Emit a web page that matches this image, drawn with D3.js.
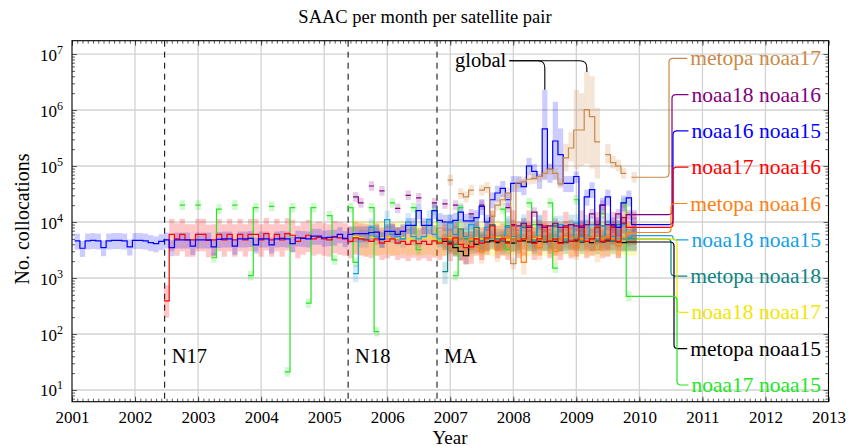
<!DOCTYPE html>
<html>
<head>
<meta charset="utf-8">
<script src="https://cdn.jsdelivr.net/npm/d3@7"></script>
<style>
body { margin: 0; background: #fff; }
</style>
</head>
<body>
<div id="chart"></div>
<script>
"use strict"

/* data: monthly collocation counts, month index 0 = Jan 2001 */
let years = [2001, 2002, 2003, 2004, 2005, 2006, 2007, 2008, 2009, 2010, 2011, 2012, 2013];
let decades = [10, 100, 1000, 10000, 100000, 1000000, 10000000];
let eventYears = [2002.47, 2005.38, 2006.79];
let eventNames = ["N17", "N18", "MA"];

let pairNames = ["metopa noaa17", "noaa18 noaa16", "noaa16 noaa15", "noaa17 noaa16", "metopa noaa16",
    "noaa18 noaa15", "metopa noaa18", "noaa18 noaa17", "metopa noaa15", "noaa17 noaa15"];
let startMonths = [72, 54, 1, 18, 71, 54, 71, 54, 71, 21];
let bandLow = [0.8, 0.82, 0.7, 0.5, 0.6, 0.7, 0.6, 0.5, 0.7, 0.82];
let bandHigh = [1.25, 1.22, 1.35, 1.9, 1.5, 1.45, 1.5, 2.0, 1.35, 1.22];

let metopaNoaa17 = [56000, null, 32000, 28000, 37000, null, 37000, 41000, 12600, 20000, 25000, 33000,
    1800, 50000, 52000, 58000, 60000, 65000, 74000, 87000, 74000, 48000, 140000, 210000,
    440000, 440000, 1020000, 760000, 270000, null, 160000, 115000, 100000, 74000, null, 63000];

let noaa18Noaa16 = [28000, 22000, null, 44000, null, 36000, null, null, 17500, null, 30000, null,
    27000, null, null, 22000, null, 21000, null, 20000, null, null, 14000, null,
    20000, null, null, null, null, 18000, 9000, 8500, 9500, 8000, 15000, 9000,
    8000, 8500, 9500, 8000, 8500, 9000, 8500, 8000, 9000, 14000, 9000, 20000,
    9000, 8500, 14000, 9500, 13500, 13500];

let noaa16Noaa15 = [4600, 3400, 4600, 4700, 4600, 3500, 4600, 4700, 4700, 4600, 3600,
    4700, 4700, 4600, 4300, 4100, 4500, 4800, 3500, 4800, 4800, 4800, 3700,
    4800, 4800, 4800, 3600, 4900, 5000, 5000, 3700, 5000, 5000, 5100, 3900,
    5000, 5000, 3900, 5000, 5100, 5000, 4100, 5200, 5100, 5000, 5600, 5600,
    5200, 5300, 5400, 6000, 5100, 6000, 6200, 6200, 6200, 6500, 6600, 4900,
    6800, 6800, 6000, 6800, 8700, 8700, 16000, 8700, 8700, 16000, 10700, 10000,
    10000, 10700, 15000, 10500, 10500, 12000, 19000, 10000, 25000, 33000, 40000, 25000,
    49000, 49000, 43000, 100000, 80000, 65000, 460000, 87000, 280000, 160000, 49000, 49000,
    65000, 8000, 28000, 38000, 9000, 20000, 28000, 9000, 8000, 22000, 27000, 9000];

let noaa17Noaa16 = [390,
    6000, 5000, 6000, 4800, 4800, 6000, 6000, 4700, 4800, 6000, 4800, 6000,
    4800, 6000, 4800, 6000, 6000, 4800, 6200, 4800, 6000, 4800, 6200, 5800,
    4500, 5200, 5800, 5000, 5300, 5000, 4800, 5500, 5200, 5000, 4500, 5200,
    5000, 4800, 4500, 5000, 4200, 4500, 5000, 4200, 4500, 4000, 4600, 4100,
    4500, 4000, 4600, 4200, 5000, 4000, 5200, 4000, 3500, 3600, 5000, 4200,
    5200, 8500, 4500, 5000, 4200, 8500, 4500, 5000, 8500, 4200, 5000, 8500,
    4500, 5000, 4200, 8000, 4500, 4800, 8500, 4500, 5000, 8000, 4500, 4800,
    8000, 4500, 12000, 8000, 8000];

let metopaNoaa16 = [5200, 5000, 4800, 5200, 4000, 5000, 5000, 3000, 5000, 5500, 3200, 5000,
    5500, 5000, 5000, 1900, 5000, 5500, 3500, 5200, 5000, 3000, 5000, 5500,
    5200, 3500, 5000, 4800, 5200, 3200, 5000, 5500, 5000, 3800, 5200, 6500, 6500];

let noaa18Noaa15 = [1200, 5000, 5000, 8000, 5500, 5000, 11000, 6000, 5500, 5000, 10000, 5500,
    5000, 5500, 11000, 6000, 5000, 5000, 9500, 6000, 5000, 5500, 9000, 5000,
    4500, 8000, 5000, 4500, 5000, 8000, 5500, 5000, 9500, 5000, 4800, 9000,
    5500, 5000, 4800, 9000, 5000, 4800, 9500, 5500, 5000, 9000, 5000, 4800,
    10000, 5500, 5000, 9000, 5200, 5700];

let metopaNoaa18 = [1300, 4500, 4000, 7500, 5000, 4500, 8000, 4500, 5000, 9000, 5000, 4500,
    8500, 5000, 4500, 8000, 5000, 4500, 9000, 5000, 4500, 8500, 5000, 4500,
    9000, 5000, 4500, 9000, 5000, 4500, 8500, 5000, 4500, 9000, 5000, 5000, 5000];

let noaa18Noaa17 = [5500, 5200, 5000, 5300, 5000, 5200, 5400, 5000, 5100, 5300, 5000, 5200,
    5000, 5100, 5300, 5000, 4800, 5000, 5200, 4900, 5100, 5000, 4800, 5200,
    5000, 5100, 4900, 5300, 5000, 4800, 5200, 5000, 5100, 4900, 5000, 5200,
    5000, 4800, 5100, 5000, 5200, 4900, 5000, 5100, 4800, 5000, 5200, 5000,
    4900, 5100, 5000, 5200, 5000, 5000];

let metopaNoaa15 = [4500, 4200, 3500, 3000, 2500, 4500, 4000, 4500, 4400, 4600, 4300, 4500,
    4400, 4200, 4500, 4600, 4400, 4300, 4500, 4400, 4600, 4500, 4300, 4400,
    4500, 4600, 4400, 4500, 4300, 4500, 4400, 4600, 4500, 4400, 4300, 4400, 4400];

let noaa17Noaa15 = [20000, null, null, 20000, null, null, 2300, 17000, null, null, 20000, null,
    null, 1100, 18000, null, null, 19000, null, null, 21, 18000, null, null,
    355, 18000, null, null, 13000, 2100, null, null, 18000, 1900, null, null,
    18000, 110, null, null, 22000, null, null, null, 18000, 3200, null, null,
    16000, 4600, null, null, 1100, 18000, null, null, null, null, null, null,
    null, 17000, 3200, null, null, null, 22000, 9000, null, null, 22000, 1500,
    null, null, null, 25000, 5000, null, null, 8000, 14000, null, null, null,
    22000, 470];

/* month index: [low, high] of the spread where it is far wider than usual */
let noaa16Noaa15Peak = [[87, 70000, 140000], [89, 39000, 72000], [90, 56000, 2300000],
    [91, 50000, 110000], [92, 56000, 1400000], [93, 43000, 470000], [96, 50000, 80000]];
let metopaNoaa17Peak = [[93, 40000, 60000], [94, 80000, 250000], [95, 120000, 400000],
    [96, 87000, 2300000], [97, 100000, 2000000], [98, 110000, 4800000], [99, 90000, 4000000],
    [100, 60000, 1100000], [102, 110000, 250000], [103, 90000, 150000], [104, 80000, 130000]];

let pairValues = [metopaNoaa17, noaa18Noaa16, noaa16Noaa15, noaa17Noaa16, metopaNoaa16,
    noaa18Noaa15, metopaNoaa18, noaa18Noaa17, metopaNoaa15, noaa17Noaa15];
let pairPeaks = [metopaNoaa17Peak, [], noaa16Noaa15Peak, [], [], [], [], [], [], []];

/* styles */
let serif = "Liberation Serif";
let colors = ["#CC8844", "#800080", "#0000FF", "#FF0000", "#FF8010",
    "#12A0E6", "#0A8484", "#F2E600", "#000000", "#22E622"];
let bandOpacity = [0.22, 0.2, 0.2, 0.22, 0.2, 0.2, 0.2, 0.25, 0.18, 0.22];
let turnX = [669, 672, 673, 673, 671, 673, 671, 677, 674, 677];

/* set up the drawing canvas */
let width = 849, height = 446;
let drawing = d3.select("#chart")
    .append("svg")
    .attr("width", width)
    .attr("height", height)
    .attr("font-family", serif);

let plotLeft = 72, plotRight = 828.5, plotTop = 40.7, plotBottom = 401.7;
let xs = d3.scaleLinear().domain([2001, 2013]).range([plotLeft, plotRight]);
let ys = d3.scaleLog().domain([6.18, 1.73e7]).range([plotBottom, plotTop]);
let monthYear = m => 2001 + m / 12;

/* grid */
drawing.append("g")
    .selectAll("line")
    .data(years.slice(1, -1))
    .join("line")
    .attr("x1", d => xs(d)).attr("x2", d => xs(d))
    .attr("y1", plotTop).attr("y2", plotBottom)
    .attr("stroke", "#d2d2d2")
    .attr("stroke-width", 1.3);

drawing.append("g")
    .selectAll("line")
    .data(decades)
    .join("line")
    .attr("x1", plotLeft).attr("x2", plotRight)
    .attr("y1", d => ys(d)).attr("y2", d => ys(d))
    .attr("stroke", "#d2d2d2")
    .attr("stroke-width", 1.3);

/* satellite launch lines */
drawing.append("g")
    .selectAll("line")
    .data(eventYears)
    .join("line")
    .attr("x1", d => xs(d)).attr("x2", d => xs(d))
    .attr("y1", plotTop).attr("y2", plotBottom)
    .attr("stroke", "black")
    .attr("stroke-width", 1)
    .attr("stroke-dasharray", "6,5");

drawing.append("g")
    .selectAll("text")
    .data(eventYears)
    .join("text")
    .attr("x", d => xs(d) + 7)
    .attr("y", 363)
    .attr("font-family", serif)
    .attr("font-size", 20.5)
    .text((d, i) => eventNames[i]);

/* turn one pair into a list of monthly records */
function monthRecords(k) {
    let peaks = new Map(pairPeaks[k].map(p => [p[0], p]));
    return pairValues[k].map((v, i) => {
        let m = startMonths[k] + i;
        let p = peaks.get(m);
        return {
            m: m,
            v: v,
            lo: v == null ? null : (p ? p[1] : v * bandLow[k]),
            hi: v == null ? null : (p ? p[2] : v * bandHigh[k])
        };
    });
}

let drawOrder = [9, 8, 7, 6, 5, 4, 3, 2, 1, 0];
let plot = drawing.append("g");

/* spread bands */
drawOrder.forEach(k => {
    plot.append("g")
        .selectAll("rect")
        .data(monthRecords(k).filter(d => d.v != null))
        .join("rect")
        .attr("x", d => xs(monthYear(d.m - 0.5)))
        .attr("width", d => xs(monthYear(d.m + 0.5)) - xs(monthYear(d.m - 0.5)))
        .attr("y", d => ys(d.hi))
        .attr("height", d => ys(d.lo) - ys(d.hi))
        .attr("fill", colors[k])
        .attr("fill-opacity", bandOpacity[k]);
});

/* step lines */
let stepLine = d3.line()
    .defined(d => d.v != null)
    .x(d => xs(d.t))
    .y(d => ys(d.v));

drawOrder.forEach(k => {
    let pts = [];
    monthRecords(k).forEach(d => {
        pts.push({t: monthYear(d.m - 0.5), v: d.v});
        pts.push({t: monthYear(d.m + 0.5), v: d.v});
    });
    plot.append("path")
        .attr("d", stepLine(pts))
        .attr("fill", "none")
        .attr("stroke", colors[k])
        .attr("stroke-width", 1.2);
});

/* labels on the right with their leader lines */
let labelRight = 821;
pairNames.forEach((name, k) => {
    let ly = 58.3 + k * 36.3;
    let label = drawing.append("text")
        .attr("x", labelRight)
        .attr("y", ly)
        .attr("dy", "0.33em")
        .attr("text-anchor", "end")
        .attr("font-family", serif)
        .attr("font-size", 21.5)
        .attr("fill", colors[k])
        .text(name);
    let labelLeft = labelRight - label.node().getComputedTextLength() - 3;

    let recs = monthRecords(k).filter(d => d.v != null);
    let last = recs[recs.length - 1];
    let x0 = xs(monthYear(last.m + 0.5));
    let y0 = ys(last.v);
    let vx = turnX[k];
    let s = ly > y0 ? 1 : -1;
    let r = Math.min(4, Math.abs(ly - y0) / 2);
    let p = d3.path();
    p.moveTo(x0, y0);
    p.lineTo(vx - r, y0);
    p.quadraticCurveTo(vx, y0, vx, y0 + s * r);
    p.lineTo(vx, ly - s * r);
    p.quadraticCurveTo(vx, ly, vx + r, ly);
    p.lineTo(labelLeft, ly);
    drawing.append("path")
        .attr("d", p.toString())
        .attr("fill", "none")
        .attr("stroke", colors[k])
        .attr("stroke-width", 1.2);
});

/* "global" annotation pointing at the two highest spreads */
let globalText = drawing.append("text")
    .attr("x", 455)
    .attr("y", 60.7)
    .attr("dy", "0.3em")
    .attr("font-family", serif)
    .attr("font-size", 20.5)
    .text("global");
let gx = 455 + globalText.node().getComputedTextLength() + 3;
let gy = 60.7;
let globalTargets = [[noaa16Noaa15Peak, 90], [metopaNoaa17Peak, 98]];
globalTargets.forEach(t => {
    let rec = t[0].find(p => p[0] === t[1]);
    let tx = xs(monthYear(t[1]));
    let ty = ys(rec[2]);
    let p = d3.path();
    p.moveTo(gx, gy);
    p.lineTo(tx - 7, gy);
    p.quadraticCurveTo(tx, gy, tx, gy + 7);
    p.lineTo(tx, ty);
    drawing.append("path")
        .attr("d", p.toString())
        .attr("fill", "none")
        .attr("stroke", "black")
        .attr("stroke-width", 1.1);
});

/* axes ticks */
let monthTicks = d3.range(0, 145).map(monthYear);
let minorY = [];
for (let e = 0; e <= 7; e++) {
    for (let k = 2; k <= 9; k++) {
        let v = k * Math.pow(10, e);
        if (v > 6.18 && v < 1.73e7) minorY.push(v);
    }
}

function tickGroup(axis, tx, ty) {
    let g = drawing.append("g")
        .attr("transform", "translate(" + tx + "," + ty + ")")
        .call(axis);
    g.select(".domain").remove();
    g.selectAll(".tick line").attr("stroke", "#333").attr("stroke-width", 0.8);
    return g;
}

tickGroup(d3.axisBottom(xs).tickValues(monthTicks).tickSize(-3).tickFormat(""), 0, plotBottom);
tickGroup(d3.axisTop(xs).tickValues(monthTicks).tickSize(-3).tickFormat(""), 0, plotTop);
tickGroup(d3.axisTop(xs).tickValues(years).tickSize(-5).tickFormat(""), 0, plotTop);
let xAxis = tickGroup(d3.axisBottom(xs).tickValues(years).tickSize(-5).tickPadding(9).tickFormat(d3.format("d")), 0, plotBottom);
xAxis.attr("font-family", serif).attr("font-size", 17);
xAxis.selectAll("text")
    .attr("fill", "black");

tickGroup(d3.axisLeft(ys).tickValues(minorY).tickSize(-3).tickFormat(""), plotLeft, 0);
tickGroup(d3.axisRight(ys).tickValues(minorY).tickSize(-3).tickFormat(""), plotRight, 0);
tickGroup(d3.axisRight(ys).tickValues(decades).tickSize(-5).tickFormat(""), plotRight, 0);
let yAxis = tickGroup(d3.axisLeft(ys).tickValues(decades).tickSize(-5).tickFormat(""), plotLeft, 0);
yAxis.attr("font-family", serif);
yAxis.selectAll(".tick").each(function (d) {
    let t = d3.select(this).append("text")
        .attr("x", -9)
        .attr("y", 6)
        .attr("text-anchor", "end")
        .attr("fill", "black")
        .attr("font-size", 17);
    t.append("tspan").text("10");
    t.append("tspan")
        .attr("dy", -7)
        .attr("font-size", 12)
        .text(Math.round(Math.log10(d)));
});

/* frame */
drawing.append("rect")
    .attr("x", plotLeft)
    .attr("y", plotTop)
    .attr("width", plotRight - plotLeft)
    .attr("height", plotBottom - plotTop)
    .attr("fill", "none")
    .attr("stroke", "black")
    .attr("stroke-width", 1.1);

/* titles */
drawing.append("text")
    .attr("x", 425)
    .attr("y", 23)
    .attr("text-anchor", "middle")
    .attr("font-family", serif)
    .attr("font-size", 18.5)
    .text("SAAC per month per satellite pair");

drawing.append("text")
    .attr("x", 450)
    .attr("y", 443.5)
    .attr("text-anchor", "middle")
    .attr("font-family", serif)
    .attr("font-size", 19)
    .text("Year");

drawing.append("text")
    .attr("transform", "translate(29,219) rotate(-90)")
    .attr("text-anchor", "middle")
    .attr("font-family", serif)
    .attr("font-size", 20)
    .text("No. collocations");
</script>
</body>
</html>
